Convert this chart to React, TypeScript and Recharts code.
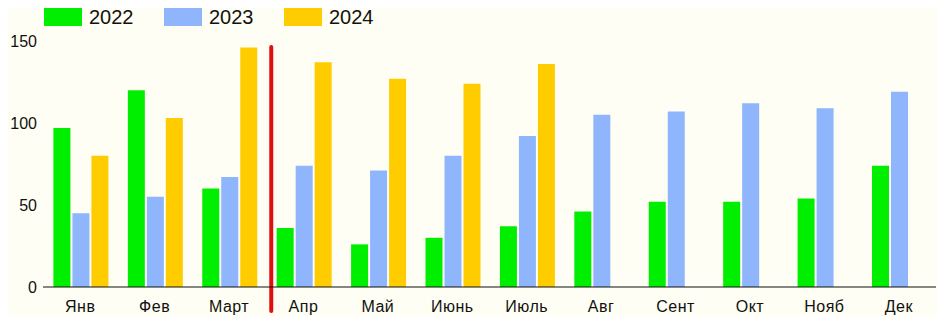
import { BarChart, Bar, XAxis, YAxis, Legend, ReferenceLine } from 'recharts';

const months = ['Янв', 'Фев', 'Март', 'Апр', 'Май', 'Июнь', 'Июль', 'Авг', 'Сент', 'Окт', 'Нояб', 'Дек'];
const y2022 = [97, 120, 60, 36, 26, 30, 37, 46, 52, 52, 54, 74];
const y2023 = [45, 55, 67, 74, 71, 80, 92, 105, 107, 112, 109, 119];
const y2024 = [80, 103, 146, 137, 127, 124, 136, null, null, null, null, null];
const yTicks = [0, 50, 100, 150];

const data = months.map((m, i) => ({ name: m, a: y2022[i], b: y2023[i], c: y2024[i] }));

const font = '"Liberation Sans", Arial, sans-serif';

function LegendBox(props: any) {
    const items = props.payload || [];
    return <div style={{ display: 'flex', height: 34, paddingLeft: 44, fontFamily: font }}>
        {items.map((it: any) => (
            <div key={it.value} style={{ display: 'flex', alignItems: 'center', width: 120, height: 34 }}>
                <span style={{ display: 'inline-block', width: 38, height: 18, background: it.color }} />
                <span style={{ marginLeft: 7, fontSize: 20, color: '#111' }}>{it.value}</span>
            </div>
        ))}
    </div>
}

function RedLine(props: any) {
    const x = props.x1 + 5;
    const top = Math.min(props.y1, props.y2);
    const bottom = Math.max(props.y1, props.y2);
    return <line x1={x} x2={x} y1={top + 6} y2={bottom + 24} stroke="#e01010" strokeWidth={4} strokeLinecap="round" />
}

export default function App() {
    return <div style={{ width: 945, height: 325, background: '#fefef4', margin: -8 }}>
        <BarChart width={945} height={325} data={data}
                  margin={{ top: 7, right: 9, left: 0, bottom: 8 }}
                  barCategoryGap="14%" barGap={2}>
            <Legend verticalAlign="top" align="left" content={<LegendBox />}
                    wrapperStyle={{ top: 0, left: 0 }} />
            <XAxis dataKey="name" tickLine={false} tickMargin={8} height={30}
                   axisLine={{ stroke: '#111' }}
                   tick={{ fill: '#111', fontSize: 16, fontFamily: font, letterSpacing: 0.5 }} />
            <YAxis domain={[0, 150]} ticks={yTicks} width={43} axisLine={false} tickLine={false}
                   tickMargin={0} tick={{ fill: '#111', fontSize: 16, fontFamily: font }} />
            <Bar dataKey="a" name="2022" fill="#00ee00" isAnimationActive={false} />
            <Bar dataKey="b" name="2023" fill="#8fb5fd" isAnimationActive={false} />
            <Bar dataKey="c" name="2024" fill="#ffcc00" isAnimationActive={false} />
            <ReferenceLine x="Апр" position="start" shape={<RedLine />} />
        </BarChart>
    </div>
}
